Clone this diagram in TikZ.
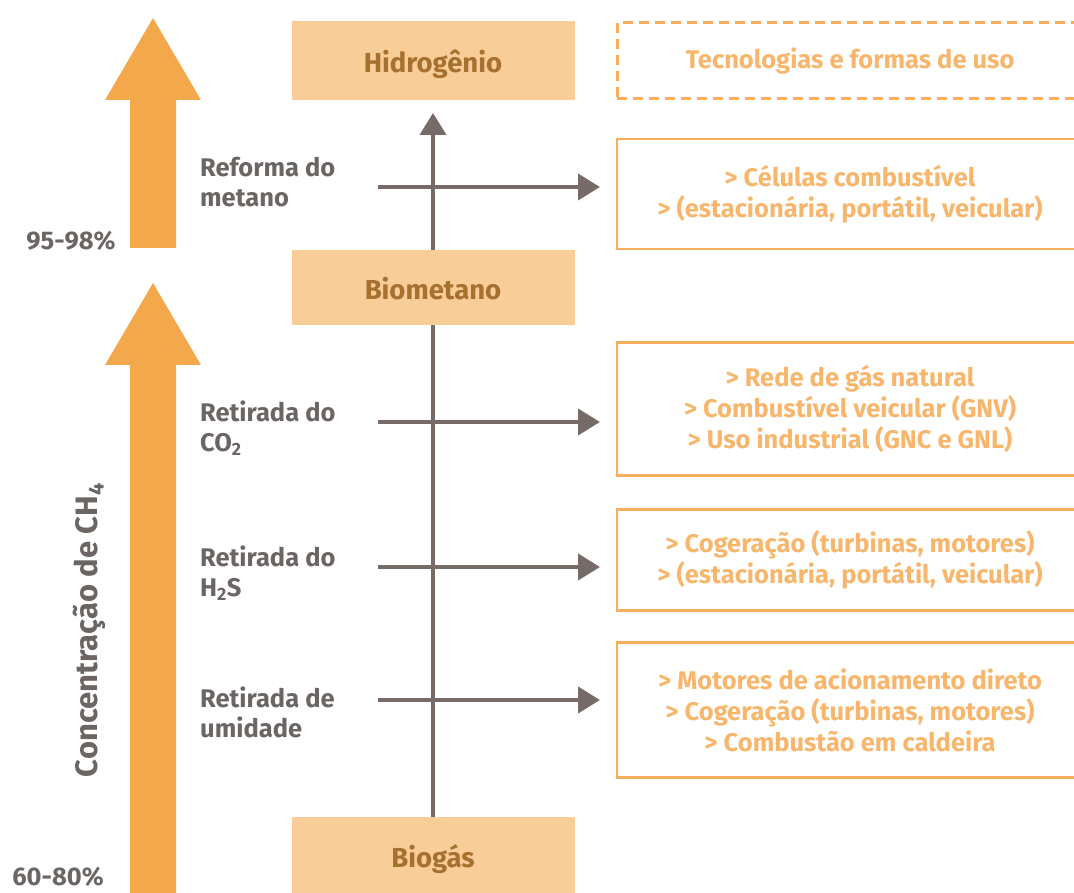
\documentclass[tikz,border=0pt]{standalone}
\usepackage{fontspec}
\setmainfont{Fira Sans}
\usetikzlibrary{arrows.meta}

\definecolor{bigorange}{HTML}{F4A84C}
\definecolor{boxfill}{HTML}{F9CD98}
\definecolor{boxtext}{HTML}{A6712F}
\definecolor{useline}{HTML}{F6AE5E}
\definecolor{usetext}{HTML}{F7B66C}
\definecolor{flowgray}{HTML}{766B67}
\definecolor{labgray}{HTML}{6B6664}

\tikzset{
  stage/.style={fill=boxfill, text=boxtext, inner sep=0pt, minimum width=283pt,
    text height=24pt, text depth=0pt, font=\bfseries\fontsize{27.5}{30}\selectfont},
  usebox/.style={draw=useline, line width=2.5pt, text=usetext, align=center, inner sep=0pt,
    minimum width=466pt, font=\bfseries\fontsize{25.5}{31}\selectfont},
  proc/.style={text=labgray, anchor=west, align=left, inner sep=0pt,
    font=\bfseries\fontsize{25.5}{30}\selectfont},
  pct/.style={text=labgray, inner sep=0pt, font=\bfseries\fontsize{25.5}{28}\selectfont},
  trunk/.style={draw=flowgray, line width=4pt},
  flow/.style={draw=flowgray, line width=4pt, -{Triangle[length=22pt,width=26pt]}}
}

\begin{document}
\begin{tikzpicture}[x=1pt,y=-1pt]
	\useasboundingbox (0,0) rectangle (1074,893);
	%\draw[help lines] (0,0) grid[step=50] (1074,893);
	% big arrows for the CH4 content
	\fill[bigorange] (130,248) -- (130,100) -- (105,100) -- (153,18) -- (201,100) -- (176,100) -- (176,248) -- cycle;
	\fill[bigorange] (130,893) -- (130,365) -- (105,365) -- (153,283) -- (201,365) -- (176,365) -- (176,893) -- cycle;
	\node[pct] (p1) at (71,241) {95-98\%};
	\node[pct] (p2) at (58,877) {60-80\%};
	\node[text=labgray, rotate=90, inner sep=0pt, font=\bfseries\fontsize{31}{34}\selectfont] (conc) at (89,630) {Concentração de CH\textsubscript{4}};

	% stages
	\node[stage, minimum height=79pt] (hidro) at (433,60.5) {Hidrogênio};
	\node[stage, minimum height=75pt] (biomet) at (433,287.5) {Biometano};
	\node[stage, minimum height=76pt] (biogas) at (433,855) {Biogás};
	\coordinate (top) at (433,113);
	\draw[trunk] (biogas.north) -- (biomet.south);
	\draw[flow] (biomet.north) -- (top);

	% processes
	\node[proc] (ref) at (200,182) {Reforma do\\metano};
	\node[proc] (co2) at (200,428) {Retirada do\\CO\textsubscript{2}};
	\node[proc] (hs) at (200,573) {Retirada do\\H\textsubscript{2}S};
	\node[proc] (umi) at (200,712) {Retirada de\\umidade};
	\foreach \n/\y in {a/187,b/422,c/567,d/700}{
		\coordinate (\n0) at (378,\y);
		\coordinate (\n1) at (600,\y);
		\draw[flow] (\n0) -- (\n1);
	}

	% uses
	\node[usebox, dashed, dash pattern=on 10pt off 6pt, line width=3pt, minimum height=76pt] (usos) at (850,61) {Tecnologias e formas de uso};
	\node[usebox, minimum height=110pt] (u1) at (850,194) {> Células combustível\\> (estacionária, portátil, veicular)};
	\node[usebox, minimum height=133pt] (u2) at (850,409) {> Rede de gás natural\\> Combustível veicular (GNV)\\> Uso industrial (GNC e GNL)};
	\node[usebox, minimum height=101pt] (u3) at (850,560) {> Cogeração (turbinas, motores)\\> (estacionária, portátil, veicular)};
	\node[usebox, minimum height=135pt] (u4) at (850,710) {> Motores de acionamento direto\\> Cogeração (turbinas, motores)\\> Combustão em caldeira};
\end{tikzpicture}
\end{document}
